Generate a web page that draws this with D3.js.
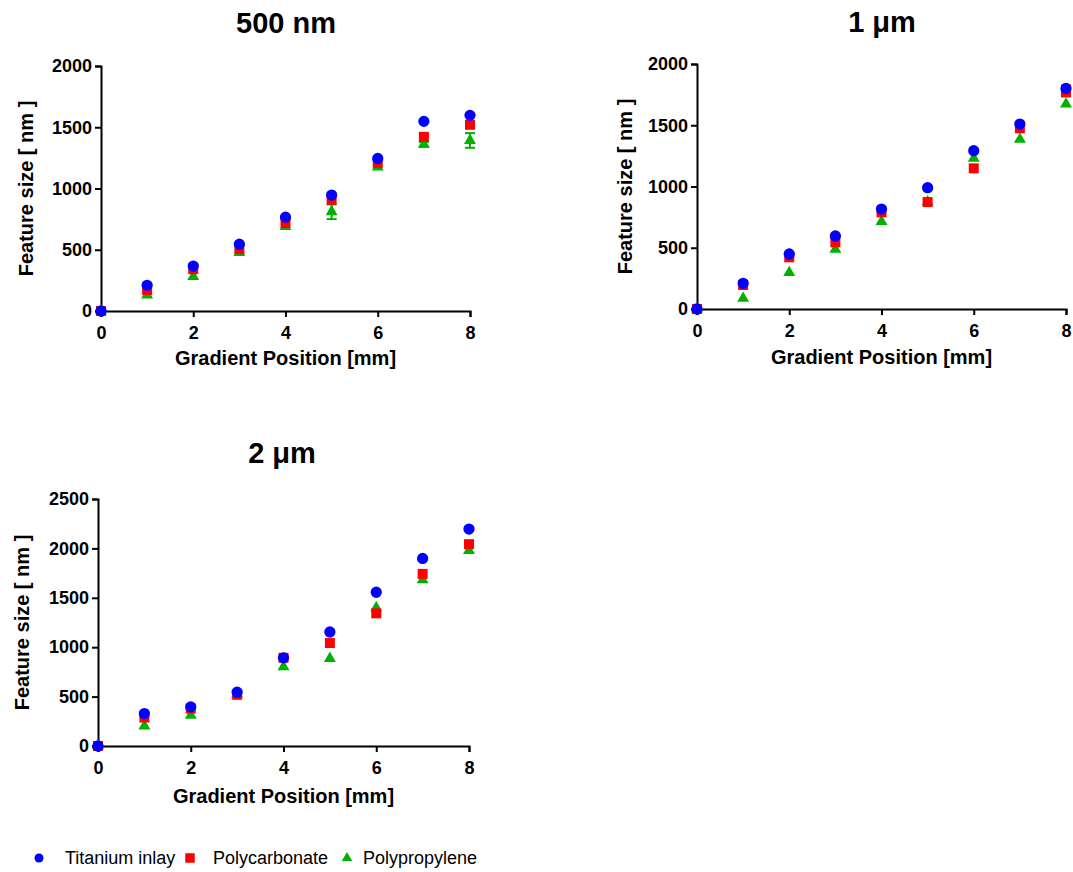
<!DOCTYPE html>
<html>
<head>
<meta charset="utf-8">
<script src="https://cdn.jsdelivr.net/npm/d3@7/dist/d3.min.js"></script>
<style>
  html, body { margin: 0; padding: 0; background: #fff; }
  svg { display: block; }
  .axis path, .axis line { stroke: #000; stroke-width: 2; }
  .axis text { font-family: "Liberation Sans", Arial, sans-serif; font-weight: bold; font-size: 18px; fill: #000; }
</style>
</head>
<body>
<svg id="chart" width="1073" height="872"></svg>
<script>
// Gradient positions (mm)
const positions = [0, 1, 2, 3, 4, 5, 6, 7, 8];
const seriesNames = ["Titanium inlay", "Polycarbonate", "Polypropylene"];
const xTicks = [0, 2, 4, 6, 8];

// 500 nm gradient: feature size (nm)
const ti500 = [0, 210, 367, 545, 766, 946, 1245, 1548, 1597];
const pc500 = [0, 172, 341, 505, 718, 908, 1209, 1422, 1520];
const pp500 = [0, 131, 281, 477, 690, 810, 1176, 1360, 1392];
const ppErr500 = [0, 0, 0, 0, 0, 60, 0, 20, 60];

// 1 µm gradient: feature size (nm)
const ti1 = [0, 210, 449, 596, 816, 990, 1292, 1510, 1801];
const pc1 = [0, 196, 422, 544, 789, 873, 1148, 1475, 1780];
const pp1 = [0, 87, 297, 487, 713, 875, 1230, 1385, 1673];
const pcErr1 = [0, 0, 0, 0, 0, 0, 0, 0, 45];

// 2 µm gradient: feature size (nm)
const ti2 = [0, 328, 396, 545, 893, 1154, 1556, 1898, 2196];
const pc2 = [0, 288, 379, 518, 893, 1042, 1343, 1742, 2043];
const pp2 = [0, 203, 311, 525, 802, 886, 1400, 1681, 1979];

const yTicks500 = [0, 500, 1000, 1500, 2000];
const yTicks1 = [0, 500, 1000, 1500, 2000];
const yTicks2 = [0, 500, 1000, 1500, 2000, 2500];

const colors = { "Titanium inlay": "#0000ff", "Polycarbonate": "#ff0000", "Polypropylene": "#00b200" };
const shapes = { "Titanium inlay": d3.symbolCircle, "Polycarbonate": d3.symbolSquare, "Polypropylene": d3.symbolTriangle };

const panels = [
  { title: "500 nm", x0: 101, x1: 470, yTop: 66, yBot: 311, yMax: 2000, yTicks: yTicks500,
    titleX: 286, titleY: 33, yLabX: 33, xLabY: 365,
    series: [ { name: "Polypropylene", v: pp500, e: ppErr500 },
              { name: "Polycarbonate", v: pc500 },
              { name: "Titanium inlay", v: ti500 } ] },
  { title: "1 \u03bcm", x0: 697, x1: 1066, yTop: 64, yBot: 309, yMax: 2000, yTicks: yTicks1,
    titleX: 882, titleY: 32, yLabX: 632, xLabY: 364,
    series: [ { name: "Polypropylene", v: pp1 },
              { name: "Polycarbonate", v: pc1, e: pcErr1 },
              { name: "Titanium inlay", v: ti1 } ] },
  { title: "2 \u03bcm", x0: 98, x1: 469, yTop: 499, yBot: 746, yMax: 2500, yTicks: yTicks2,
    titleX: 282, titleY: 463, yLabX: 29, xLabY: 803,
    series: [ { name: "Polypropylene", v: pp2 },
              { name: "Polycarbonate", v: pc2 },
              { name: "Titanium inlay", v: ti2 } ] }
];

const svg = d3.select("#chart");
const font = '"Liberation Sans", Arial, sans-serif';

panels.forEach(p => {
  const x = d3.scaleLinear().domain([0, 8]).range([p.x0, p.x1]);
  const y = d3.scaleLinear().domain([0, p.yMax]).range([p.yBot, p.yTop]);
  const g = svg.append("g");

  g.append("g").attr("class", "axis")
    .attr("transform", `translate(0,${p.yBot})`)
    .call(d3.axisBottom(x).tickValues(xTicks).tickFormat(d3.format("d")).tickSizeOuter(0).tickSize(6).tickPadding(9));
  g.append("g").attr("class", "axis")
    .attr("transform", `translate(${p.x0},0)`)
    .call(d3.axisLeft(y).tickValues(p.yTicks).tickFormat(d3.format("d")).tickSizeOuter(0).tickSize(6).tickPadding(3));

  g.append("text").attr("x", p.titleX).attr("y", p.titleY)
    .attr("text-anchor", "middle").attr("font-family", font)
    .attr("font-weight", "bold").attr("font-size", 29).text(p.title);

  g.append("text").attr("x", (p.x0 + p.x1) / 2).attr("y", p.xLabY)
    .attr("text-anchor", "middle").attr("font-family", font)
    .attr("font-weight", "bold").attr("font-size", 20).text("Gradient Position [mm]");

  g.append("text")
    .attr("transform", `translate(${p.yLabX},${(p.yTop + p.yBot) / 2}) rotate(-90)`)
    .attr("text-anchor", "middle").attr("font-family", font)
    .attr("font-weight", "bold").attr("font-size", 20).text("Feature size [ nm ]");

  p.series.forEach(s => {
    const col = colors[s.name];
    if (s.e) {
      s.e.forEach((err, i) => {
        if (!err) return;
        const cx = x(positions[i]);
        const yl = y(s.v[i] - err), yh = y(s.v[i] + err);
        const eg = g.append("g").attr("stroke", col).attr("stroke-width", 2);
        eg.append("line").attr("x1", cx).attr("x2", cx).attr("y1", yl).attr("y2", yh);
        eg.append("line").attr("x1", cx - 5).attr("x2", cx + 5).attr("y1", yl).attr("y2", yl);
        eg.append("line").attr("x1", cx - 5).attr("x2", cx + 5).attr("y1", yh).attr("y2", yh);
      });
    }
    const sym = d3.symbol().type(shapes[s.name]).size(s.name === "Polypropylene" ? 62 : 100);
    g.append("g").selectAll("path").data(s.v).join("path")
      .attr("d", sym)
      .attr("transform", (d, i) => `translate(${x(positions[i])},${y(d)})`)
      .attr("fill", col);
  });
});

// Legend
const legendItems = [
  { name: seriesNames[0], mx: 39, tx: 65, size: 64 },
  { name: seriesNames[1], mx: 190, tx: 213, size: 90 },
  { name: seriesNames[2], mx: 347, tx: 363, size: 48 }
];
const lg = svg.append("g");
legendItems.forEach(it => {
  lg.append("path")
    .attr("d", d3.symbol().type(shapes[it.name]).size(it.size)())
    .attr("transform", `translate(${it.mx},858)`)
    .attr("fill", colors[it.name]);
  lg.append("text").attr("x", it.tx).attr("y", 864)
    .attr("font-family", font).attr("font-size", 18).attr("fill", "#000")
    .text(it.name);
});
</script>
</body>
</html>
